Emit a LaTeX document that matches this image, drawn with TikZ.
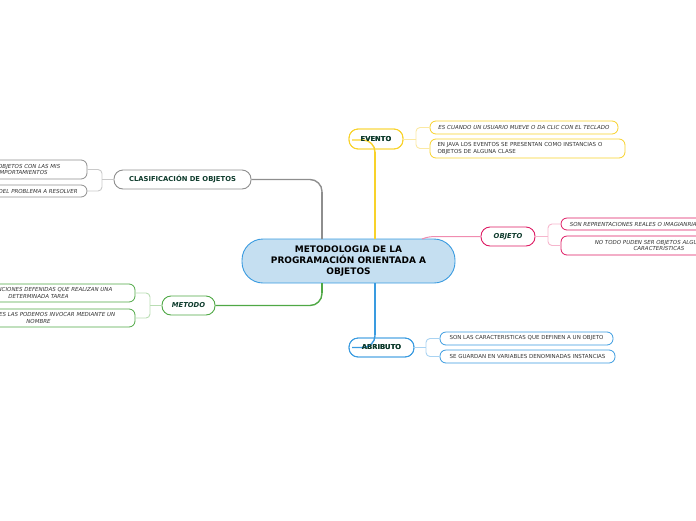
\documentclass[tikz,border=0pt]{standalone}
\usepackage{fontspec}
\setmainfont{DejaVu Sans}
\definecolor{cblue}{HTML}{3A9BE0}
\definecolor{cbluefill}{HTML}{C5DFF1}
\definecolor{cbluelight}{HTML}{A9D3F2}
\definecolor{cyel}{HTML}{F8D22A}
\definecolor{cyellight}{HTML}{FBE9A3}
\definecolor{cpink}{HTML}{DE1A63}
\definecolor{cpinkline}{HTML}{F08CB0}
\definecolor{cpinklight}{HTML}{F6B6CD}
\definecolor{cgreen}{HTML}{4FA845}
\definecolor{cgreenlight}{HTML}{B9DDB3}
\definecolor{cgray}{HTML}{8E8E8E}
\definecolor{cgraylight}{HTML}{C9C9C9}
\definecolor{ctext}{HTML}{0E3B2C}
\definecolor{csmall}{HTML}{333333}
\tikzset{
  x=1pt,y=-1pt,
  mainbox/.style={draw, line width=0.9pt, rounded corners=9pt, inner sep=0pt, minimum height=19pt, text=ctext, font=\fontsize{6.8}{8}\selectfont\bfseries, fill=white},
  leafbox/.style={draw, line width=0.8pt, rounded corners=6pt, inner sep=0pt, text=csmall, font=\fontsize{5.5}{6.6}\selectfont, align=center, fill=white},
  leafit/.style={leafbox, font=\fontsize{5.5}{6.6}\selectfont\itshape},
  mainline/.style={line width=1.4pt, rounded corners=12pt},
  trunk/.style={line width=2.8pt},
  twig/.style={line width=0.9pt, rounded corners=4pt}
}
\begin{document}
\begin{tikzpicture}
\path[use as bounding box] (0,0) rectangle (696,520);
\clip (0,0) rectangle (696,520);

% central node
\node[draw=cblue, fill=cbluefill, line width=0.9pt, rounded corners=21pt, minimum width=213pt, minimum height=44pt, inner sep=0pt, align=center, font=\fontsize{9}{11}\selectfont\bfseries] (center) at (348.5,261) {METODOLOGIA DE LA\\PROGRAMACIÓN ORIENTADA A\\OBJETOS};

% main topic nodes
\node[mainbox, draw=cyel, minimum width=54pt, minimum height=20pt, fill=none] (evento) at (376,139) {EVENTO};
\node[mainbox, draw=cpink, minimum width=54pt, font=\fontsize{6.8}{8}\selectfont\bfseries\itshape] (objeto) at (508,236.5) {OBJETO};
\node[mainbox, draw=cblue, minimum width=65pt, fill=none] (abributo) at (381.5,347.5) {ABRIBUTO};
\node[mainbox, draw=cgray, minimum width=137pt] (clasif) at (182.5,179.5) {CLASIFICACIÓN DE OBJETOS};
\node[mainbox, draw=cgreen, minimum width=53pt, font=\fontsize{6.8}{8}\selectfont\bfseries\itshape] (metodo) at (188.5,305.5) {METODO};

% leaves
\node[leafit, draw=cyel, minimum width=188pt, minimum height=13pt] (ev1) at (524,127.5) {ES CUANDO UN USUARIO MUEVE O DA CLIC CON EL TECLADO};
\node[leafbox, draw=cyel, minimum width=195pt, minimum height=19pt, align=left, text width=180pt] (ev2) at (527.5,148.5) {EN JAVA LOS EVENTOS SE PRESENTAN COMO INSTANCIAS O\\OBJETOS DE ALGUNA CLASE};
\node[leafit, draw=cpink, minimum width=148pt, minimum height=12pt] (ob1) at (635,224) {SON REPRENTACIONES REALES O IMAGIANRIAS};
\node[leafit, draw=cpink, minimum width=196pt, minimum height=19pt] (ob2) at (659,245.5) {NO TODO PUDEN SER OBJETOS ALGUNOS SON\\CARACTERISTICAS};
\node[leafbox, draw=cblue, minimum width=173pt, minimum height=13pt] (ab1) at (526.5,338.5) {SON LAS CARACTERISTICAS QUE DEFINEN A UN OBJETO};
\node[leafbox, draw=cblue, minimum width=175pt, minimum height=13pt] (ab2) at (527.5,356.5) {SE GUARDAN EN VARIABLES DENOMINADAS INSTANCIAS};
\node[leafit, draw=cgray, minimum width=140pt, minimum height=19pt] (cl1) at (17,169.5) {AGRUPA OBJETOS CON LAS MIS\\Y COMPORTAMIENTOS};
\node[leafit, draw=cgray, minimum width=140pt, minimum height=12pt] (cl2) at (17,191) {DEPENDIENDO DEL PROBLEMA A RESOLVER};
\node[leafit, draw=cgreen, minimum width=193pt, minimum height=18pt] (me1) at (38.5,293) {SON LAS FUNCIONES DEFENIDAS QUE REALIZAN UNA\\DETERMINADA TAREA};
\node[leafit, draw=cgreen, minimum width=193pt, minimum height=18pt] (me2) at (38.5,318) {LAS FUNCIONES LAS PODEMOS INVOCAR MEDIANTE UN\\NOMBRE};

% main connectors
\coordinate (cg) at (322,239);
\coordinate (cgk) at (322,192);
\coordinate (cy) at (375,239);
\coordinate (cyk) at (375,152);
\coordinate (cb) at (375,283);
\coordinate (cbk) at (375,335);
\coordinate (cgr) at (322,283);
\coordinate (cgrk) at (322,293);
\coordinate (cp) at (422,239);
\coordinate (evin) at (352,140);
\coordinate (abin) at (352,347.5);
\draw[mainline, cgray] (cg) |- (clasif.east);
\draw[trunk, cgray] (cg) -- (cgk);
\draw[mainline, cyel] (cy) |- (evin);
\draw[trunk, cyel] (cy) -- (cyk);
\draw[mainline, cblue] (cb) |- (abin);
\draw[trunk, cblue] (cb) -- (cbk);
\draw[mainline, cgreen] (cgr) |- (metodo.east);
\draw[trunk, cgreen] (cgr) -- (cgrk);
\draw[line width=1pt, cpinkline] (cp) .. controls (428,236.5) and (432,236.5) .. (440,236.5) -- (objeto.west);

% redraw nodes with text on top of lines where lines enter
\node[mainbox, draw=cyel, minimum width=54pt, minimum height=20pt, fill=none] at (376,139) {EVENTO};
\node[mainbox, draw=cblue, minimum width=65pt, fill=none] at (381.5,347.5) {ABRIBUTO};

% twigs
\coordinate (evj) at (416,139);
\draw[twig, cyellight] (evento.east) -- (evj);
\draw[twig, cyellight] (evj) |- (ev1.west);
\draw[twig, cyellight] (evj) |- (ev2.west);

\coordinate (obj) at (548,236.5);
\draw[twig, cpinklight] (objeto.east) -- (obj);
\draw[twig, cpinklight] (obj) |- (ob1.west);
\draw[twig, cpinklight] (obj) |- (ob2.west);

\coordinate (abj) at (426,347.5);
\draw[twig, cbluelight] (abributo.east) -- (abj);
\draw[twig, cbluelight] (abj) |- (ab1.west);
\draw[twig, cbluelight] (abj) |- (ab2.west);

\coordinate (clj) at (102,179.5);
\draw[twig, cgraylight] (clasif.west) -- (clj);
\draw[twig, cgraylight] (clj) |- (cl1.east);
\draw[twig, cgraylight] (clj) |- (cl2.east);

\coordinate (mej) at (150,305.5);
\draw[twig, cgreenlight] (metodo.west) -- (mej);
\draw[twig, cgreenlight] (mej) |- (me1.east);
\draw[twig, cgreenlight] (mej) |- (me2.east);
\end{tikzpicture}
\end{document}
